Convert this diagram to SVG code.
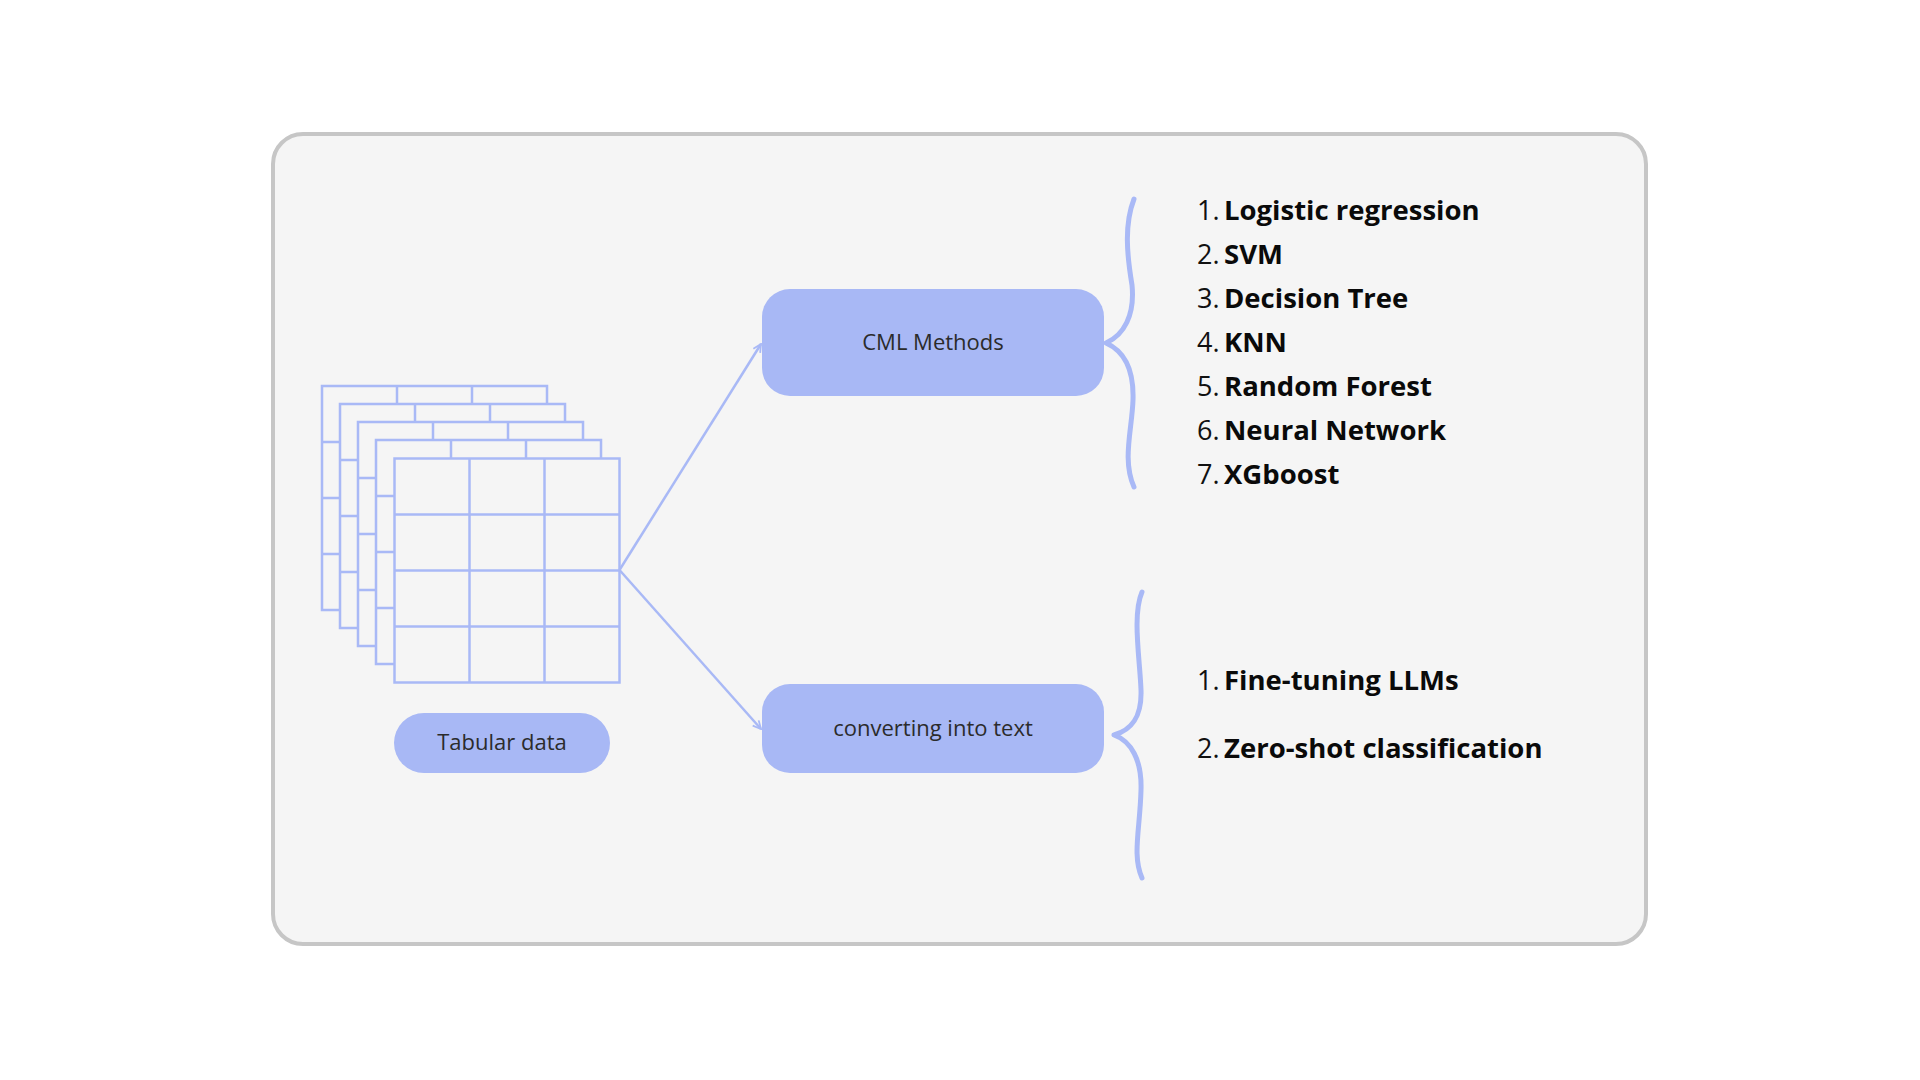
<svg xmlns="http://www.w3.org/2000/svg" width="1920" height="1080" viewBox="0 0 1920 1080">
<defs>
<style>
.conn{stroke:#a9b9f6;stroke-width:2.5;fill:none}
.brace{stroke:#a9b9f6;stroke-width:5;fill:none;stroke-linecap:round;stroke-linejoin:round}
.box{fill:#a8b8f5}
.lbl{font-family:"Open Sans","Liberation Sans",sans-serif;font-size:22px;fill:#2b2b2b;text-anchor:middle}
.num{font-family:"Open Sans","Liberation Sans",sans-serif;font-size:27px;fill:#111}
.itm{font-family:"Open Sans","Liberation Sans",sans-serif;font-size:27.5px;font-weight:bold;fill:#0a0a0a}
</style>
<marker id="ah" viewBox="0 0 10 10" refX="9" refY="5" markerWidth="10" markerHeight="10" markerUnits="userSpaceOnUse" orient="auto">
<path d="M1,1 L9,5 L1,9" fill="none" stroke="#a9b9f6" stroke-width="1.8"/>
</marker>
<g id="grid" stroke="#a9b9f6" stroke-width="2.5" fill="#f5f5f5">
<rect x="0" y="0" width="225" height="224"/>
<line x1="75" y1="0" x2="75" y2="224"/>
<line x1="150" y1="0" x2="150" y2="224"/>
<line x1="0" y1="56" x2="225" y2="56"/>
<line x1="0" y1="112" x2="225" y2="112"/>
<line x1="0" y1="168" x2="225" y2="168"/>
</g>
</defs>
<rect width="1920" height="1080" fill="#ffffff"/>
<rect id="container" x="273" y="134" width="1373" height="810" rx="30" fill="#f5f5f5" stroke="#c6c6c6" stroke-width="4"/>

<g id="tabular-data-icon">
<use href="#grid" x="322" y="386"/>
<use href="#grid" x="340" y="404"/>
<use href="#grid" x="358" y="422"/>
<use href="#grid" x="376" y="440"/>
<use href="#grid" x="394.5" y="458.5"/>
</g>

<g id="connectors">
<line class="conn" x1="619.5" y1="570" x2="761" y2="344" marker-end="url(#ah)"/>
<line class="conn" x1="619.5" y1="570" x2="761" y2="729" marker-end="url(#ah)"/>
</g>

<g id="node-tabular">
<rect class="box" x="394" y="713" width="216" height="60" rx="30"/>
<text class="lbl" x="502" y="750">Tabular data</text>
</g>

<g id="node-cml">
<rect class="box" x="762" y="289" width="342" height="107" rx="28"/>
<text class="lbl" x="933" y="350">CML Methods</text>
</g>

<g id="node-text">
<rect class="box" x="762" y="684" width="342" height="89" rx="28"/>
<text class="lbl" x="933" y="736">converting into text</text>
</g>

<g id="brace-cml">
<path class="brace" d="M1134,199 C1124,225 1127,255 1132,285 C1135,315 1124,335 1106,343 C1124,351 1134,370 1133,400 C1132,430 1122,460 1134,487"/>
</g>
<g id="brace-text">
<path class="brace" d="M1142,592 C1132,615 1140,660 1141,690 C1142,718 1131,730 1114,735 C1131,741 1142,760 1141,790 C1140,830 1132,855 1142,878"/>
</g>

<g id="list-cml">
<text class="num" x="1197" y="220">1.</text><text class="itm" x="1224" y="220">Logistic regression</text>
<text class="num" x="1197" y="264">2.</text><text class="itm" x="1224" y="264">SVM</text>
<text class="num" x="1197" y="308">3.</text><text class="itm" x="1224" y="308">Decision Tree</text>
<text class="num" x="1197" y="352">4.</text><text class="itm" x="1224" y="352">KNN</text>
<text class="num" x="1197" y="396">5.</text><text class="itm" x="1224" y="396">Random Forest</text>
<text class="num" x="1197" y="440">6.</text><text class="itm" x="1224" y="440">Neural Network</text>
<text class="num" x="1197" y="484">7.</text><text class="itm" x="1224" y="484">XGboost</text>
</g>
<g id="list-text">
<text class="num" x="1197" y="690">1.</text><text class="itm" x="1224" y="690">Fine-tuning LLMs</text>
<text class="num" x="1197" y="758">2.</text><text class="itm" x="1224" y="758">Zero-shot classification</text>
</g>
</svg>
